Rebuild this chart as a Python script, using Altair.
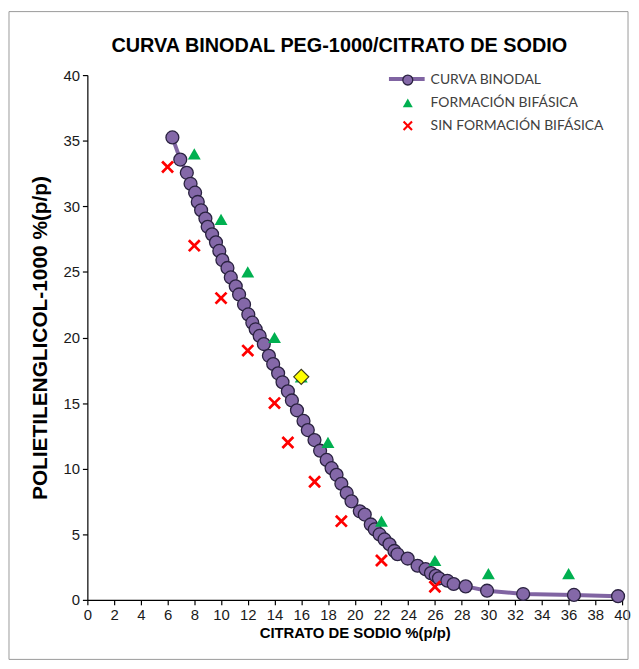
import altair as alt
import pandas as pd

# ---------------- data ----------------
curve_x = [6.36, 6.95, 7.44, 7.72, 8.06, 8.26, 8.51, 8.83, 9.00, 9.33, 9.62, 9.87,
           10.10, 10.48, 10.73, 11.10, 11.35, 11.72, 12.04, 12.34, 12.59, 12.89,
           13.20, 13.58, 13.90, 14.27, 14.60, 15.00, 15.30, 15.68, 16.17, 16.49,
           16.99, 17.41, 17.90, 18.27, 18.64, 19.00, 19.40, 19.76, 20.38, 20.75,
           21.20, 21.50, 21.86, 22.23, 22.60, 22.97, 23.20, 23.96, 24.70, 25.30,
           25.70, 26.06, 26.30, 26.93, 27.40, 28.30, 29.90, 32.60, 36.40, 39.70]
curve_y = [35.25, 33.56, 32.55, 31.72, 31.04, 30.33, 29.70, 29.07, 28.44, 27.86, 27.25, 26.60,
           25.90, 25.30, 24.58, 23.90, 23.28, 22.52, 21.76, 21.13, 20.63, 20.12,
           19.50, 18.60, 17.98, 17.27, 16.59, 15.90, 15.20, 14.45, 13.64, 12.94,
           12.18, 11.37, 10.67, 10.04, 9.53, 8.85, 8.15, 7.51, 6.75, 6.50,
           5.75, 5.37, 4.99, 4.61, 4.24, 3.73, 3.48, 3.15, 2.60, 2.34,
           2.04, 1.84, 1.64, 1.46, 1.21, 1.03, 0.70, 0.45, 0.38, 0.28]

form_x = [8, 10, 12, 14, 16, 18, 22, 26, 30, 36]
form_y = [34, 29, 25, 20, 17, 12, 6, 3, 2, 2]

sin_x = [6, 8, 10, 12, 14, 15, 17, 19, 22, 26]
sin_y = [33, 27, 23, 19, 15, 12, 9, 6, 3, 1]

diamond_x = [16]
diamond_y = [17]

series_names = ["CURVA BINODAL", "FORMACIÓN BIFÁSICA", "SIN FORMACIÓN BIFÁSICA"]
title_text = "CURVA BINODAL PEG-1000/CITRATO DE SODIO"
x_title = "CITRATO DE SODIO %(p/p)"
y_title = "POLIETILENGLICOL-1000 %(p/p)"
x_ticks = list(range(0, 41, 2))
y_ticks = list(range(0, 41, 5))

# ---------------- styles ----------------
PURPLE = "#8064A2"
MARKER_FILL = "#8468A8"
MARKER_EDGE = "#2A2240"
GREEN = "#00B050"
RED = "#FF0000"
X_PATH = ("M-1,-0.7L-0.7,-1L0,-0.3L0.7,-1L1,-0.7L0.3,0L1,0.7L0.7,1"
          "L0,0.3L-0.7,1L-1,0.7L-0.3,0Z")

W, H = 539, 529

line_label = series_names[0] + " "
df_line = pd.DataFrame({"x": curve_x, "y": curve_y, "s": [line_label] * len(curve_x)})

df_pts = pd.concat([
    pd.DataFrame({"x": curve_x, "y": curve_y, "s": series_names[0], "o": 1}),
    pd.DataFrame({"x": sin_x, "y": sin_y, "s": series_names[2], "o": 2}),
    pd.DataFrame({"x": form_x, "y": form_y, "s": series_names[1], "o": 3}),
], ignore_index=True)

df_diamond = pd.DataFrame({"x": diamond_x, "y": diamond_y})
df_title = pd.DataFrame({"t": [title_text]})

xscale = alt.Scale(domain=[0, 40], nice=False, zero=False)
yscale = alt.Scale(domain=[0, 40], nice=False, zero=False)

xaxis = alt.Axis(values=x_ticks, title=x_title, grid=False, tickSize=5,
                 labelPadding=3, titlePadding=3, labelFlush=False, titleFontSize=15)
yaxis = alt.Axis(values=y_ticks, title=y_title, grid=False, tickSize=5,
                 labelPadding=3, titlePadding=12, titleFontSize=21)

X = alt.X("x:Q", scale=xscale, axis=xaxis)
Y = alt.Y("y:Q", scale=yscale, axis=yaxis)

line_legend = alt.Legend(title=None, orient="none", legendX=302, legendY=-16,
                         symbolType="stroke", symbolSize=1296, symbolStrokeWidth=4,
                         labelExpr="''", labelFontSize=14, padding=0)

line = alt.Chart(df_line).mark_line(strokeWidth=4).encode(
    x=X, y=Y,
    color=alt.Color("s:N", scale=alt.Scale(domain=[line_label], range=[PURPLE]),
                    legend=line_legend),
)

pt_legend = alt.Legend(title=None, orient="none", legendX=316, legendY=-2,
                       symbolSize=100, symbolStrokeWidth=1.3, symbolOpacity=1,
                       labelFont="Lato", labelFontSize=14, labelColor="#404040",
                       rowPadding=8, padding=0, labelOffset=16, labelLimit=400)

points = alt.Chart(df_pts).mark_point(filled=True, size=169, opacity=1, strokeWidth=1.3).encode(
    x=X, y=Y,
    shape=alt.Shape("s:N", scale=alt.Scale(domain=series_names,
                                            range=["circle", "triangle-up", X_PATH]),
                    legend=pt_legend),
    fill=alt.Fill("s:N", scale=alt.Scale(domain=series_names,
                                          range=[MARKER_FILL, GREEN, RED]),
                  legend=pt_legend),
    stroke=alt.Stroke("s:N", scale=alt.Scale(domain=series_names,
                                              range=[MARKER_EDGE, "transparent", "transparent"]),
                      legend=pt_legend),
    order=alt.Order("o:Q"),
)

diamond = alt.Chart(df_diamond).mark_point(shape="diamond", filled=True, size=230,
                                           fill="#FFFF00", stroke="#3a3a1a",
                                           strokeWidth=1.2, opacity=1).encode(x=X, y=Y)

border = alt.Chart(df_title).mark_rect(fill="transparent", stroke="#9a9a9a", strokeWidth=1).encode(
    x=alt.value(-79), x2=alt.value(545), y=alt.value(-64), y2=alt.value(589)
)

title = alt.Chart(df_title).mark_text(font="Liberation Sans", fontSize=20, fontWeight="bold",
                                      color="#000000", align="center", baseline="middle").encode(
    text="t:N", x=alt.value(254), y=alt.value(-29)
)

chart = alt.layer(line, points, diamond, border, title).properties(
    width=W, height=H, padding=0, background="white"
).configure_view(stroke=None).configure_axis(
    labelFont="Liberation Sans", labelFontSize=15, labelColor="#1a1a1a",
    titleFont="Liberation Sans", titleFontWeight="bold", titleColor="#000000",
    domainColor="#000000", tickColor="#000000", domainWidth=1.2, tickWidth=1.2,
)

chart.save("out.html", embed_options={"renderer": "svg", "actions": False})
